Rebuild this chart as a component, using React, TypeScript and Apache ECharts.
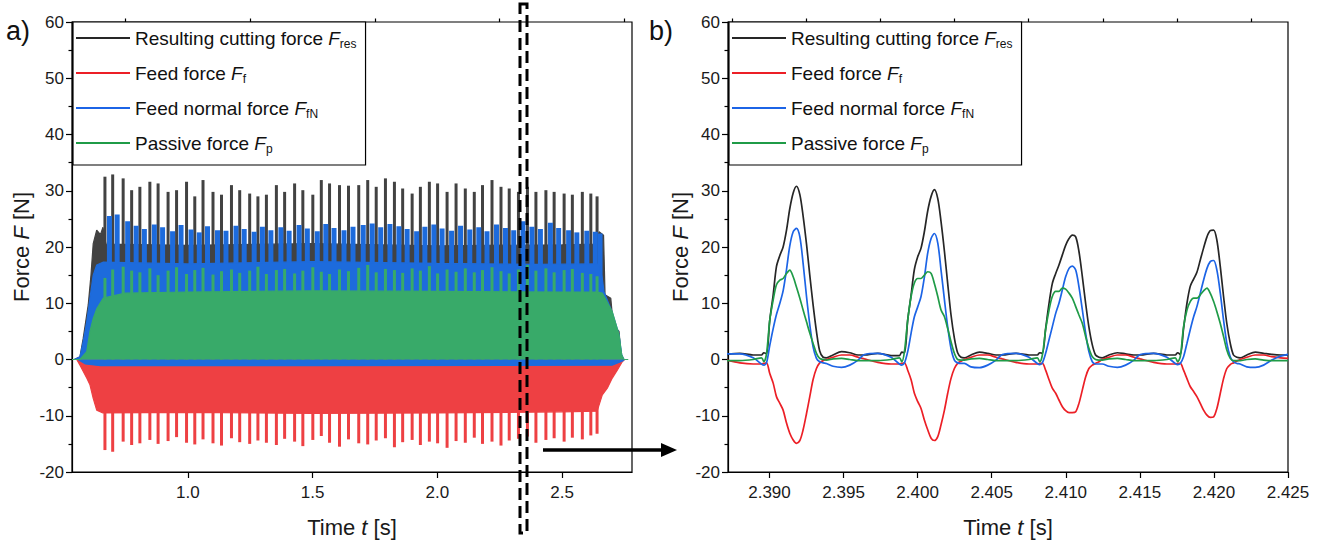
import React, { useEffect, useRef } from "react";
import * as echarts from "echarts";

const FONT = "'Liberation Sans', Arial, sans-serif";

// ---------- legend / names ----------
const legendNames = ["Resulting cutting force", "Feed force", "Feed normal force", "Passive force"];
const legendSubs = ["res", "f", "fN", "p"];
const lineColors = ["#262626", "#ec1f26", "#1c64e6", "#1f9b47"];
const fillColors = ["#424242", "#ee4043", "#1d6bdc", "#38aa69"];

// ---------- axis ticks ----------
const yMin = -20;
const yMax = 60;
const yStep = 10;
const xALabels = [1.0, 1.5, 2.0, 2.5];
const xAMinor = [0.75, 1.25, 1.75, 2.25, 2.75];
const xAMin = 0.536;
const xAMax = 2.78;
const xBLabels = [2.39, 2.395, 2.4, 2.405, 2.41, 2.415, 2.42, 2.425];
const xBMinor = [2.3875, 2.3925, 2.3975, 2.4025, 2.4075, 2.4125, 2.4175, 2.4225];
const xBMin = 2.3872;
const xBMax = 2.425;

// ---------- panel a: spike times and peak values ----------
const needleT = [0.668, 0.699, 0.741, 0.775, 0.808, 0.848, 0.881, 0.921, 0.955, 0.995, 1.028, 1.061, 1.101, 1.135, 1.175, 1.208, 1.248, 1.281, 1.315, 1.355, 1.388, 1.428, 1.461, 1.501, 1.535, 1.568, 1.608, 1.644, 1.685, 1.721, 1.755, 1.792, 1.828, 1.861, 1.899, 1.932, 1.968, 2.001, 2.039, 2.075, 2.112, 2.148, 2.181, 2.219, 2.255, 2.288, 2.325, 2.361, 2.395, 2.435, 2.468, 2.508, 2.541, 2.581, 2.615, 2.640];
const fnT = [0.686, 0.717, 0.759, 0.793, 0.826, 0.866, 0.899, 0.939, 0.973, 1.013, 1.046, 1.079, 1.119, 1.153, 1.193, 1.226, 1.266, 1.299, 1.333, 1.373, 1.406, 1.446, 1.479, 1.519, 1.553, 1.586, 1.626, 1.662, 1.703, 1.739, 1.773, 1.810, 1.846, 1.879, 1.917, 1.950, 1.986, 2.019, 2.057, 2.093, 2.130, 2.166, 2.199, 2.237, 2.273, 2.306, 2.343, 2.379, 2.413, 2.453, 2.486, 2.526, 2.559, 2.599, 2.633, 2.652];
const resPeak = [32.5, 32.9, 32.2, 30.1, 30.7, 31.6, 31.3, 29.8, 30.1, 31.6, 29.0, 31.9, 29.8, 29.3, 31.0, 30.1, 29.5, 29.0, 29.3, 31.0, 29.8, 31.3, 30.1, 29.3, 31.9, 31.3, 31.0, 30.9, 31.0, 31.9, 30.7, 32.2, 31.6, 30.4, 29.5, 30.7, 31.6, 31.3, 29.8, 31.3, 30.4, 29.8, 31.0, 31.9, 30.7, 30.4, 29.8, 30.7, 29.8, 30.1, 29.8, 29.5, 29.3, 29.8, 29.5, 29.0];
const fnPeak = [25.5, 25.8, 24.6, 23.8, 23.2, 24.0, 23.5, 22.8, 23.9, 23.1, 22.6, 23.7, 23.0, 22.9, 23.8, 23.2, 22.7, 23.6, 23.0, 23.5, 22.9, 23.9, 23.3, 22.8, 24.1, 23.4, 23.0, 23.6, 23.9, 24.2, 23.5, 24.1, 23.7, 23.2, 22.8, 23.6, 24.0, 23.3, 22.9, 23.8, 23.1, 23.5, 22.8, 24.0, 23.4, 23.0, 24.6, 23.6, 23.2, 24.3, 23.4, 23.0, 22.6, 22.9, 22.7, 22.4];
const pPeak = [14.5, 16.0, 16.5, 15.8, 15.5, 16.2, 15.0, 15.8, 16.4, 15.2, 15.9, 16.3, 15.1, 15.7, 16.0, 15.4, 15.8, 16.5, 15.2, 15.9, 16.1, 15.3, 15.8, 16.4, 15.6, 15.2, 16.0, 15.7, 16.3, 16.8, 15.5, 16.1, 15.9, 15.4, 16.2, 15.8, 16.6, 15.3, 16.0, 15.6, 16.2, 15.5, 15.9, 16.4, 15.7, 15.3, 16.0, 16.8, 15.8, 16.2, 15.5, 15.9, 16.1, 15.4, 15.2, 14.8];
const fPeak = [-16.1, -16.4, -14.6, -15.2, -14.9, -14.3, -15.0, -14.5, -13.8, -14.8, -15.1, -14.2, -14.9, -15.3, -14.0, -14.7, -15.0, -14.4, -14.8, -15.2, -14.1, -14.6, -15.4, -14.3, -13.6, -14.8, -15.5, -14.2, -14.9, -15.1, -14.4, -14.0, -15.6, -14.7, -14.3, -15.2, -14.6, -14.9, -15.7, -14.5, -14.8, -13.9, -15.0, -14.6, -15.3, -14.4, -14.1, -13.7, -14.8, -14.3, -14.0, -14.6, -13.9, -14.2, -13.5, -13.2];

// ---------- panel a: body envelopes [t, value] ----------
const resBody = [[0.545, 0], [0.568, 0.5], [0.581, 3.8], [0.601, 9.7], [0.612, 15], [0.621, 20.6], [0.635, 23.0], [0.65, 22.2], [0.66, 23.5], [0.672, 20.5], [1.0, 20.3], [1.5, 20.6], [2.0, 20.2], [2.5, 20.4], [2.64, 20.5], [2.648, 22.7], [2.666, 22.1], [2.672, 11.5], [2.695, 10.9], [2.705, 6.1], [2.728, 5.0], [2.735, 1.4], [2.742, 0], [2.76, 0]];
const fnBody = [[0.545, 0], [0.568, 0.5], [0.581, 3.2], [0.595, 6.7], [0.608, 10.9], [0.621, 15.0], [0.635, 16.8], [0.66, 17.3], [1.0, 17.0], [1.5, 17.4], [2.0, 17.1], [2.4, 16.9], [2.64, 17.0], [2.65, 16.5], [2.661, 14.4], [2.668, 12.0], [2.7, 8.5], [2.728, 4.4], [2.739, 0.8], [2.748, 0]];
const fnNegBody = [[0.56, 0], [0.59, -0.8], [0.65, -1.1], [1.5, -1.1], [2.7, -1.0], [2.74, -0.3], [2.75, 0]];
const pBody = [[0.536, 0], [0.568, 0], [0.595, 1.4], [0.608, 5.0], [0.621, 7.3], [0.635, 9.0], [0.661, 10.9], [0.7, 11.3], [0.75, 11.8], [1.0, 12.0], [1.5, 12.2], [2.0, 12.1], [2.5, 12.0], [2.64, 12.0], [2.661, 11.8], [2.701, 8.5], [2.728, 4.4], [2.739, 0.8], [2.748, 0], [2.765, 0]];
const fBody = [[0.536, 0], [0.555, 0], [0.568, -1.0], [0.595, -3.3], [0.608, -4.5], [0.621, -6.9], [0.635, -9.0], [0.66, -9.5], [1.0, -9.4], [1.5, -9.6], [2.0, -9.5], [2.5, -9.3], [2.64, -9.2], [2.661, -6.3], [2.681, -5.1], [2.701, -3.3], [2.721, -1.9], [2.741, -0.4], [2.75, 0]];

// ---------- panel b: zoomed time samples and values ----------
const zoomT = [
  2.3871, 2.388, 2.3889, 2.38946, 2.38962, 2.3898, 2.39002, 2.39025, 2.39047, 2.3907, 2.39092, 2.39115, 2.39137, 2.3916, 2.39182, 2.39205, 2.39227, 2.3925, 2.39272, 2.39294, 2.39317, 2.39339, 2.39362, 2.39384, 2.39429, 2.39486, 2.39542, 2.39598,
  2.39641, 2.39731, 2.39821, 2.39877, 2.39893, 2.39911, 2.39933, 2.39956, 2.39978, 2.40001, 2.40023, 2.40046, 2.40068, 2.40091, 2.40113, 2.40136, 2.40158, 2.40181, 2.40203, 2.40225, 2.40248, 2.4027, 2.40293, 2.40315, 2.4036, 2.40417, 2.40473, 2.40529,
  2.40572, 2.40662, 2.40752, 2.40808, 2.40824, 2.40842, 2.40864, 2.40887, 2.40909, 2.40932, 2.40954, 2.40977, 2.40999, 2.41022, 2.41044, 2.41067, 2.41089, 2.41112, 2.41134, 2.41156, 2.41179, 2.41201, 2.41224, 2.41246, 2.41291, 2.41348, 2.41404, 2.4146,
  2.41503, 2.41593, 2.41683, 2.41739, 2.41755, 2.41773, 2.41795, 2.41818, 2.4184, 2.41863, 2.41885, 2.41908, 2.4193, 2.41953, 2.41975, 2.41998, 2.4202, 2.42043, 2.42065, 2.42087, 2.4211, 2.42132, 2.42155, 2.42177, 2.42222, 2.42279, 2.42335, 2.42391, 2.4245, 2.425,
];
const zoomRes = [
  0.9, 1.1, 0.8, 0.8, 1.2, 1.0, 7.0, 11.5, 16.5, 18.5, 20.0, 23.0, 26.8, 29.6, 30.8, 29.3, 25.5, 20.5, 15.0, 9.8, 5.0, 1.5, 0.4, 0.3, 0.8, 1.4, 1.2, 0.8,
  0.8, 1.1, 0.7, 0.7, 1.3, 1.2, 7.0, 11.5, 16.0, 18.3, 19.8, 22.8, 26.4, 29.0, 30.2, 28.6, 24.5, 19.2, 13.5, 8.0, 3.8, 1.2, 0.4, 0.3, 0.8, 1.3, 1.1, 0.8,
  0.8, 1.1, 0.8, 0.8, 1.2, 1.1, 5.5, 10.0, 13.5, 15.3, 16.8, 18.6, 20.3, 21.5, 22.1, 21.8, 19.2, 14.7, 10.0, 5.8, 2.6, 0.8, 0.4, 0.3, 0.8, 1.2, 1.0, 0.8,
  0.8, 1.1, 0.8, 0.8, 1.2, 0.9, 5.5, 10.0, 13.0, 14.3, 15.5, 17.7, 19.8, 21.8, 22.9, 23.0, 21.2, 16.5, 11.2, 6.4, 2.9, 0.8, 0.4, 0.3, 0.8, 1.3, 1.1, 0.9, 0.8, 0.8,
];
const zoomF = [
  -0.1, -0.6, -0.8, -0.8, -0.7, -0.6, -2.5, -4.2, -6.6, -7.8, -9.0, -11.3, -13.1, -14.3, -14.9, -14.4, -12.5, -9.6, -6.6, -3.6, -1.6, -0.6, -0.2, 0.0, 0.4, 0.8, 0.8, 0.4,
  0.1, -0.5, -0.8, -0.8, -0.7, -0.6, -1.9, -3.6, -6.0, -7.5, -8.7, -10.8, -12.5, -14.0, -14.4, -13.7, -11.6, -9.0, -6.0, -3.4, -1.6, -0.7, -0.3, 0.0, 0.4, 0.8, 0.8, 0.4,
  0.1, -0.5, -0.8, -0.8, -0.7, -0.7, -1.9, -3.6, -5.1, -6.0, -7.2, -8.4, -9.1, -9.45, -9.45, -9.3, -7.8, -5.4, -3.1, -1.6, -1.0, -0.7, -0.4, 0.0, 0.4, 0.8, 0.8, 0.4,
  0.1, -0.5, -0.8, -0.8, -0.7, -0.7, -1.9, -3.4, -4.8, -5.7, -6.6, -7.8, -9.0, -9.9, -10.3, -10.2, -8.7, -6.0, -3.4, -1.6, -0.9, -0.6, -0.3, 0.0, 0.4, 0.8, 0.8, 0.5, 0.3, 0.2,
];
const zoomFN = [
  1.0, 1.0, 0.3, -0.8, -1.0, -0.6, 2.5, 5.5, 8.0, 10.0, 12.2, 16.0, 20.2, 22.7, 23.3, 21.8, 17.1, 11.2, 6.2, 2.3, 0.2, -0.4, -0.6, -0.7, -1.2, -1.4, -1.0, -0.1,
  0.9, 1.1, 0.4, -0.8, -1.0, -0.6, 1.4, 4.7, 7.6, 9.4, 11.2, 14.7, 18.9, 21.5, 22.4, 20.7, 15.9, 10.6, 5.8, 2.0, -0.1, -0.6, -0.7, -0.7, -1.3, -1.45, -1.0, -0.1,
  0.9, 1.1, 0.4, -0.7, -0.9, -0.6, 1.1, 3.5, 5.8, 8.2, 10.0, 12.4, 14.7, 16.2, 16.6, 15.9, 12.9, 8.8, 4.7, 1.4, -0.4, -0.8, -0.8, -0.8, -1.2, -1.4, -1.0, -0.1,
  0.9, 1.1, 0.4, -0.7, -0.9, -0.7, 0.5, 2.9, 5.3, 7.6, 9.4, 11.8, 14.1, 16.2, 17.4, 17.6, 15.9, 11.8, 7.0, 2.9, 0.5, -0.4, -0.7, -0.8, -1.3, -1.4, -1.0, -0.1, 0.6, 0.9,
];
const zoomP = [
  -0.2, -0.2, 0.0, 0.3, -0.4, 1.0, 7.0, 10.6, 13.3, 14.1, 14.4, 15.3, 15.9, 14.7, 12.9, 10.9, 8.8, 6.7, 4.7, 2.9, 1.1, 0.2, 0.0, -0.1, 0.1, 0.2, 0.0, -0.2,
  -0.2, -0.2, 0.0, 0.3, -0.4, 1.4, 7.0, 11.2, 13.6, 14.4, 14.4, 15.0, 15.6, 15.3, 13.5, 11.2, 8.8, 7.6, 5.5, 3.2, 1.1, 0.0, -0.1, -0.1, 0.1, 0.2, 0.0, -0.2,
  -0.2, -0.2, 0.0, 0.3, -0.4, 0.8, 5.3, 8.8, 11.2, 12.1, 12.1, 12.7, 12.5, 11.8, 10.9, 9.4, 7.9, 6.4, 4.1, 2.0, 0.5, 0.0, -0.1, -0.1, 0.1, 0.2, 0.0, -0.2,
  -0.2, -0.2, 0.0, 0.3, -0.4, 0.5, 5.8, 8.8, 10.3, 10.9, 10.9, 11.5, 12.2, 12.7, 11.8, 10.3, 8.5, 6.4, 4.1, 1.7, 0.2, -0.2, -0.2, -0.2, 0.0, 0.1, -0.1, -0.2, -0.2, -0.2,
];

const zip = (xs: number[], ys: number[]) => xs.map((x, i) => [x, ys[i]]);

const axisLabelStyle = { fontFamily: FONT, fontSize: 17, color: "#1a1a1a" };
const nameStyle = {
  fontFamily: FONT,
  fontSize: 22,
  color: "#1a1a1a",
  rich: { i: { fontFamily: FONT, fontSize: 22, fontStyle: "italic", color: "#1a1a1a" } },
};

function makeLegend(left: number) {
  return {
    orient: "vertical",
    left,
    top: 22,
    z: 20,
    data: legendNames.map((n) => ({ name: n, icon: "rect" })),
    itemWidth: 54,
    itemHeight: 2,
    itemGap: 11,
    padding: [4, 9, 10, 3],
    backgroundColor: "#fff",
    borderColor: "#000",
    borderWidth: 1.2,
    selectedMode: false,
    formatter: (name: string) => `${name} {i|F}{s|${legendSubs[legendNames.indexOf(name)]}}`,
    textStyle: {
      fontFamily: FONT,
      fontSize: 19,
      lineHeight: 24,
      color: "#111",
      rich: {
        i: { fontFamily: FONT, fontSize: 19, fontStyle: "italic", lineHeight: 24, color: "#111" },
        s: { fontFamily: FONT, fontSize: 12, verticalAlign: "bottom", lineHeight: 10, color: "#111" },
      },
    },
  };
}

function yAxisFor(gridIndex: number, nameGap: number) {
  return {
    type: "value",
    gridIndex,
    min: yMin,
    max: yMax,
    interval: yStep,
    name: "Force {i|F} [N]",
    nameLocation: "middle",
    nameGap,
    nameTextStyle: nameStyle,
    axisLine: { show: true, lineStyle: { color: "#000", width: 1.2 } },
    axisTick: { show: true, length: 6, lineStyle: { color: "#000", width: 1.2 } },
    minorTick: { show: true, splitNumber: 2, length: 3.5, lineStyle: { color: "#000", width: 1.2 } },
    splitLine: { show: false },
    axisLabel: { ...axisLabelStyle, margin: 8 },
  };
}

function hiddenX(gridIndex: number, min: number, max: number) {
  return { type: "value", gridIndex, min, max, show: false, splitLine: { show: false } };
}

export default function App() {
  const ref = useRef<HTMLDivElement>(null);

  useEffect(() => {
    if (!ref.current) return;
    const chart = echarts.init(ref.current, undefined, { renderer: "svg" });

    const xAxes: any[] = [
      {
        type: "value",
        gridIndex: 0,
        min: xAMin,
        max: xAMax,
        name: "Time {i|t} [s]",
        nameLocation: "middle",
        nameGap: 44,
        nameTextStyle: nameStyle,
        axisLine: { show: true, onZero: false, lineStyle: { color: "#000", width: 1.2 } },
        axisTick: { show: true, length: 6, customValues: xALabels, lineStyle: { color: "#000", width: 1.2 } },
        axisLabel: { ...axisLabelStyle, margin: 12, customValues: xALabels, formatter: (v: number) => v.toFixed(1) },
        splitLine: { show: false },
      },
      {
        type: "value",
        gridIndex: 0,
        min: xAMin,
        max: xAMax,
        axisLine: { show: false, onZero: false },
        axisTick: { show: true, length: 3.5, customValues: xAMinor, lineStyle: { color: "#000", width: 1.2 } },
        axisLabel: { show: false },
        splitLine: { show: false },
      },
      hiddenX(0, xAMin, xAMax),
      hiddenX(0, xAMin, xAMax),
      hiddenX(0, xAMin, xAMax),
      hiddenX(0, xAMin, xAMax),
      {
        type: "value",
        gridIndex: 1,
        min: xBMin,
        max: xBMax,
        name: "Time {i|t} [s]",
        nameLocation: "middle",
        nameGap: 44,
        nameTextStyle: nameStyle,
        axisLine: { show: true, onZero: false, lineStyle: { color: "#000", width: 1.2 } },
        axisTick: { show: true, length: 6, customValues: xBLabels, lineStyle: { color: "#000", width: 1.2 } },
        axisLabel: { ...axisLabelStyle, margin: 12, customValues: xBLabels, formatter: (v: number) => v.toFixed(3) },
        splitLine: { show: false },
      },
      {
        type: "value",
        gridIndex: 1,
        min: xBMin,
        max: xBMax,
        axisLine: { show: false, onZero: false },
        axisTick: { show: true, length: 3.5, customValues: xBMinor, lineStyle: { color: "#000", width: 1.2 } },
        axisLabel: { show: false },
        splitLine: { show: false },
      },
    ];

    const needle = (xi: number, ts: number[], peaks: number[], color: string, w: number, z: number) => ({
      type: "bar",
      xAxisIndex: xi,
      yAxisIndex: 0,
      z,
      barWidth: w,
      itemStyle: { color },
      data: zip(ts, peaks),
      silent: true,
    });
    const body = (data: number[][], color: string, z: number) => ({
      type: "line",
      xAxisIndex: 0,
      yAxisIndex: 0,
      z,
      symbol: "none",
      lineStyle: { color, width: 1.2 },
      areaStyle: { color, opacity: 1 },
      data,
      silent: true,
    });
    const zline = (name: string, ys: number[], color: string, z: number) => ({
      type: "line",
      name,
      xAxisIndex: 6,
      yAxisIndex: 1,
      z,
      symbol: "none",
      smooth: 0.3,
      color,
      lineStyle: { color, width: 1.7 },
      data: zip(zoomT, ys),
    });

    const option: any = {
      animation: false,
      backgroundColor: "#fff",
      grid: [
        { left: 72, top: 22, width: 560, height: 450, show: true, borderColor: "#000", borderWidth: 1.2, backgroundColor: "transparent" },
        { left: 728, top: 22, width: 560, height: 450, show: true, borderColor: "#000", borderWidth: 1.2, backgroundColor: "transparent" },
      ],
      xAxis: xAxes,
      yAxis: [yAxisFor(0, 40), yAxisFor(1, 33)],
      legend: [makeLegend(73), makeLegend(729)],
      series: [
        needle(2, needleT, resPeak, fillColors[0], 3, 2),
        body(resBody, fillColors[0], 3),
        needle(3, needleT, fPeak, fillColors[1], 3, 4),
        body(fBody, fillColors[1], 5),
        needle(4, fnT, fnPeak, fillColors[2], 5, 6),
        body(fnBody, fillColors[2], 7),
        body(fnNegBody, fillColors[2], 8),
        needle(5, needleT, pPeak, fillColors[3], 3, 9),
        body(pBody, fillColors[3], 10),
        zline(legendNames[0], zoomRes, lineColors[0], 11),
        zline(legendNames[1], zoomF, lineColors[1], 12),
        zline(legendNames[2], zoomFN, lineColors[2], 13),
        zline(legendNames[3], zoomP, lineColors[3], 14),
      ],
      graphic: [
        { type: "text", left: 6, top: 17, style: { text: "a)", font: `27px ${FONT}`, fill: "#111" } },
        { type: "text", left: 649, top: 17, style: { text: "b)", font: `27px ${FONT}`, fill: "#111" } },
        {
          type: "rect",
          z: 100,
          shape: { x: 520, y: 4, width: 7, height: 529 },
          style: { fill: "none", stroke: "#000", lineWidth: 3, lineDash: [12, 6] },
        },
        { type: "line", z: 100, shape: { x1: 543, y1: 450, x2: 664, y2: 450 }, style: { stroke: "#000", lineWidth: 3.5 } },
        { type: "polygon", z: 100, shape: { points: [[661, 443], [677, 450], [661, 457]] }, style: { fill: "#000" } },
      ],
    };

    chart.setOption(option);
    return () => chart.dispose();
  }, []);

  return <div ref={ref} style={{ position: "fixed", left: 0, top: 0, width: 1320, height: 549 }} />;
}
